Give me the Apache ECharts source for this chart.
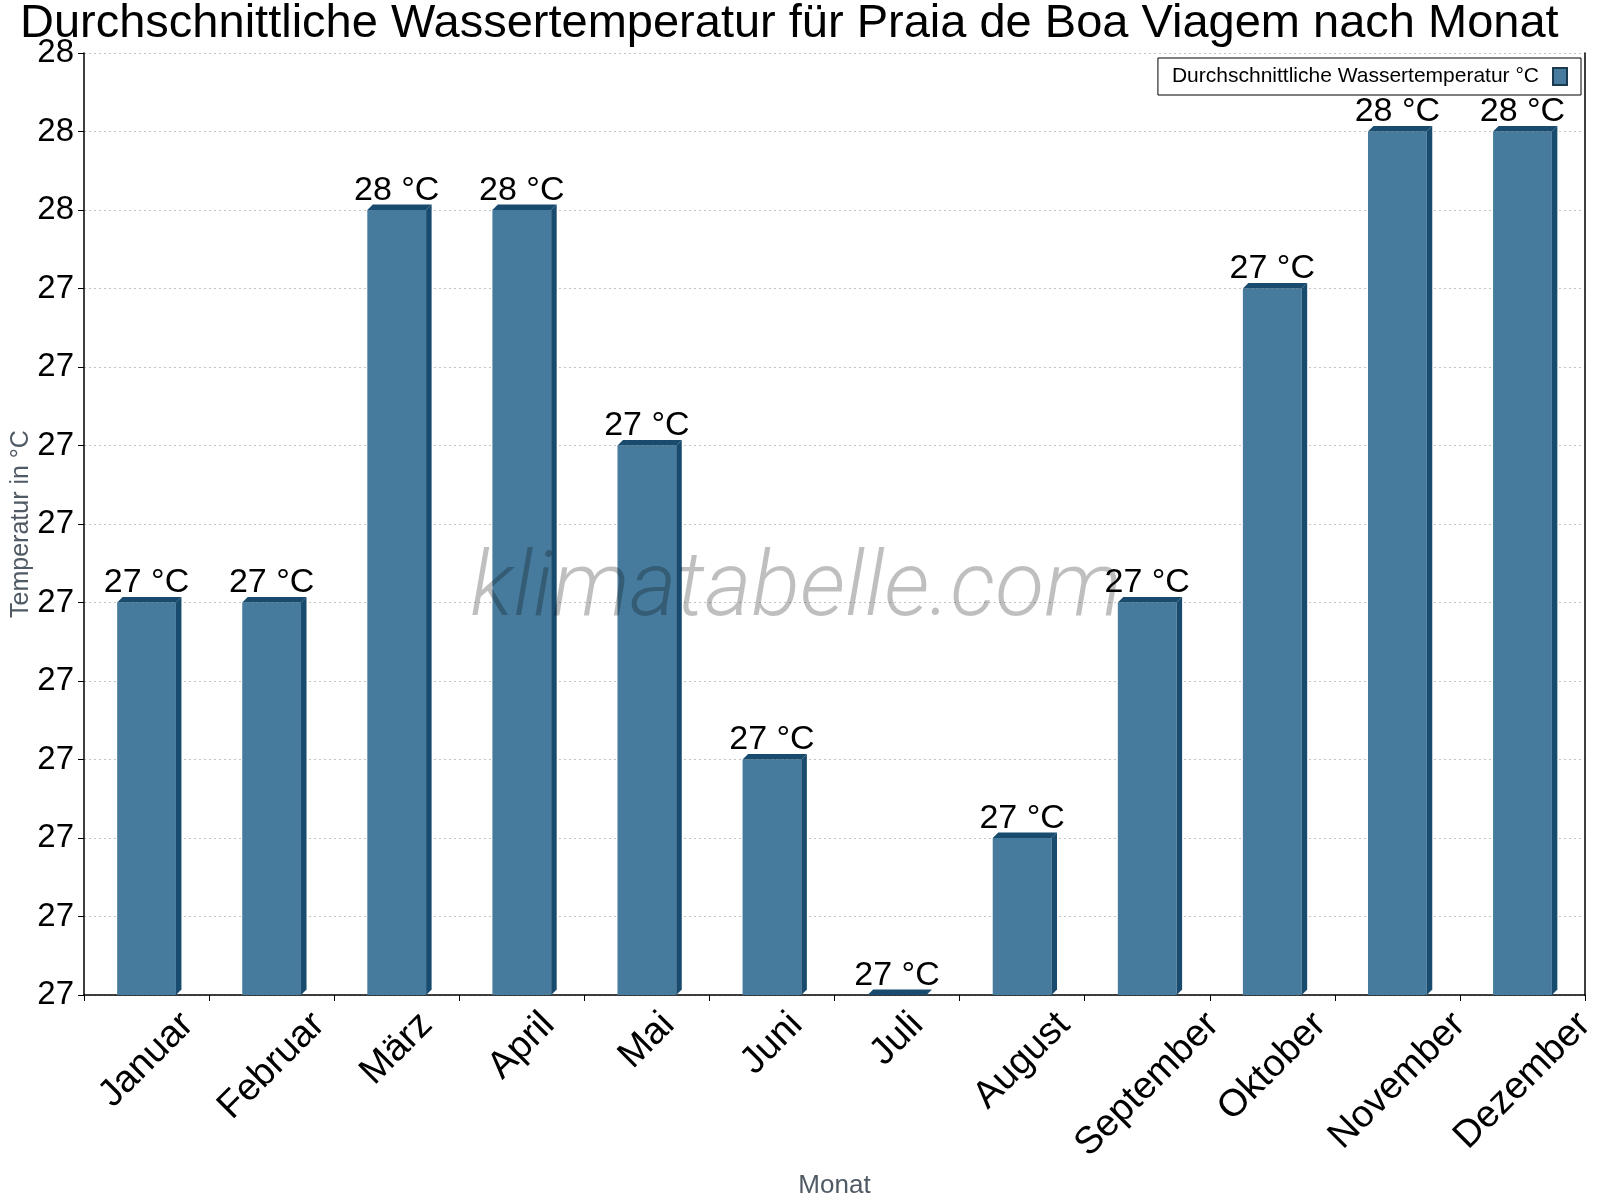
<!DOCTYPE html>
<html>
<head>
<meta charset="utf-8">
<title>Wassertemperatur Praia de Boa Viagem</title>
<script src="https://cdn.jsdelivr.net/npm/echarts@6/dist/echarts.min.js"></script>
<style>
  html, body { margin: 0; padding: 0; background: #fff; }
  #chart { width: 1600px; height: 1200px; }
</style>
</head>
<body>
<div id="chart"></div>
<script>
// data
const months = ['Januar', 'Februar', 'März', 'April', 'Mai', 'Juni', 'Juli', 'August', 'September', 'Oktober', 'November', 'Dezember'];
const waterTemp = [27.25, 27.25, 27.5, 27.5, 27.35, 27.15, 27.0, 27.1, 27.25, 27.45, 27.55, 27.55];
const yMin = 27.0;
const yMax = 27.6;
const yStep = 0.05;

const seriesName = 'Durchschnittliche Wassertemperatur °C';
const frontColor = '#467b9d';
const sideColor = '#184b6d';
const depth = 5.5;
const labelFont = '"Liberation Sans", Arial, sans-serif';

// x labels: emulate centred-rotated labels (each label's box centred under its tick)
const xLabelSize = 38;
const ctx = document.createElement('canvas').getContext('2d');
ctx.font = xLabelSize + 'px "Liberation Sans"';
const xRich = {};
months.forEach(function (m, i) {
    const w = ctx.measureText(m).width;
    xRich['m' + i] = {
        fontSize: xLabelSize,
        fontFamily: labelFont,
        color: '#000',
        padding: [w * 0.5, w * 0.5, 0, 0]
    };
});

function renderBar(params, api) {
    const cat = api.value(0);
    const top = api.coord([cat, api.value(1)]);
    const base = api.coord([cat, yMin]);
    const band = api.size([1, 0])[0];
    const w = band * 0.47;
    const x0 = top[0] - w / 2;
    const x1 = top[0] + w / 2;
    const yt = top[1];
    const yb = base[1];
    return {
        type: 'group',
        children: [
            {type: 'rect', shape: {x: x0, y: yt, width: w, height: yb - yt}, style: {fill: frontColor}},
            {type: 'polygon', shape: {points: [[x0, yt], [x0 + depth, yt - depth], [x1 + depth, yt - depth], [x1, yt]]}, style: {fill: sideColor}},
            {type: 'polygon', shape: {points: [[x1, yt], [x1 + depth, yt - depth], [x1 + depth, yb - depth], [x1, yb]]}, style: {fill: sideColor}}
        ]
    };
}

function renderLabel(params, api) {
    const pt = api.coord([api.value(0), api.value(1)]);
    return {
        type: 'text',
        x: pt[0],
        y: pt[1] - depth + 3,
        style: {
            text: Math.round(api.value(1)) + ' °C',
            fill: '#000',
            fontSize: 34,
            fontFamily: labelFont,
            align: 'center',
            verticalAlign: 'bottom'
        }
    };
}

const chartData = months.map(function (m, i) { return [i, waterTemp[i]]; });

const myChart = echarts.init(document.getElementById('chart'));
const option = {
    backgroundColor: '#fff',
    animation: false,
    title: {
        text: 'Durchschnittliche Wassertemperatur für Praia de Boa Viagem nach Monat',
        left: 20,
        top: 1,
        padding: [0, 0, 0, 0],
        textStyle: {fontSize: 47, fontWeight: 'normal', color: '#000', fontFamily: labelFont}
    },
    legend: {
        data: [{name: seriesName, icon: 'rect'}],
        right: 19,
        top: 58,
        align: 'right',
        padding: [8, 13, 8, 14],
        itemWidth: 14,
        itemHeight: 17,
        borderColor: '#000',
        borderWidth: 1,
        textStyle: {fontSize: 21, color: '#000', fontFamily: labelFont, padding: [0, 9, 0, 0]}
    },
    grid: {left: 84, right: 15, top: 53, bottom: 205, outerBoundsMode: 'none', containLabel: false},
    graphic: [{
        type: 'text',
        x: 796,
        y: 592,
        z: 3,
        style: {
            text: 'klimatabelle.com',
            fill: 'rgba(0,0,0,0.25)',
            fontSize: 90,
            fontFamily: 'Roboto',
            fontWeight: 300,
            fontStyle: 'italic',
            align: 'center',
            verticalAlign: 'middle'
        }
    }],
    xAxis: {
        type: 'category',
        data: months,
        name: 'Monat',
        nameLocation: 'middle',
        nameGap: 178,
        nameMoveOverlap: false,
        nameTextStyle: {fontSize: 26, color: '#505a64', fontFamily: labelFont},
        axisLine: {lineStyle: {color: '#000', width: 1.5}},
        axisTick: {show: true, length: 6, lineStyle: {color: '#000'}},
        axisLabel: {
            interval: 0,
            rotate: 45,
            align: 'center',
            verticalAlign: 'middle',
            margin: 24,
            formatter: function (v, i) { return '{m' + i + '|' + v + '}'; },
            rich: xRich
        },
        splitLine: {show: false}
    },
    yAxis: [{
        type: 'value',
        min: yMin,
        max: yMax,
        interval: yStep,
        name: 'Temperatur in °C',
        nameLocation: 'middle',
        nameGap: 50,
        nameMoveOverlap: false,
        nameTextStyle: {fontSize: 25, color: '#505a64', fontFamily: labelFont},
        axisLine: {show: true, lineStyle: {color: '#000', width: 1.5}},
        axisTick: {show: true, length: 6, lineStyle: {color: '#000'}},
        axisLabel: {
            fontSize: 33,
            color: '#000',
            fontFamily: labelFont,
            margin: 10,
            formatter: function (v) { return Math.round(v); }
        },
        splitLine: {show: true, lineStyle: {color: '#c4c4c4', type: [2, 3], width: 1}}
    }, {
        type: 'value',
        min: yMin,
        max: yMax,
        interval: yStep,
        position: 'right',
        axisLine: {show: true, lineStyle: {color: '#000', width: 1.5}},
        axisTick: {show: false},
        axisLabel: {show: false},
        splitLine: {show: false}
    }],
    series: [{
        name: seriesName,
        type: 'custom',
        z: 2,
        renderItem: renderBar,
        itemStyle: {color: frontColor, borderColor: '#1b3a50', borderWidth: 1.5},
        encode: {x: 0, y: 1},
        data: chartData
    }, {
        name: 'labels',
        type: 'custom',
        z: 4,
        renderItem: renderLabel,
        encode: {x: 0, y: 1},
        data: chartData
    }]
};
myChart.setOption(option);
</script>
</body>
</html>
